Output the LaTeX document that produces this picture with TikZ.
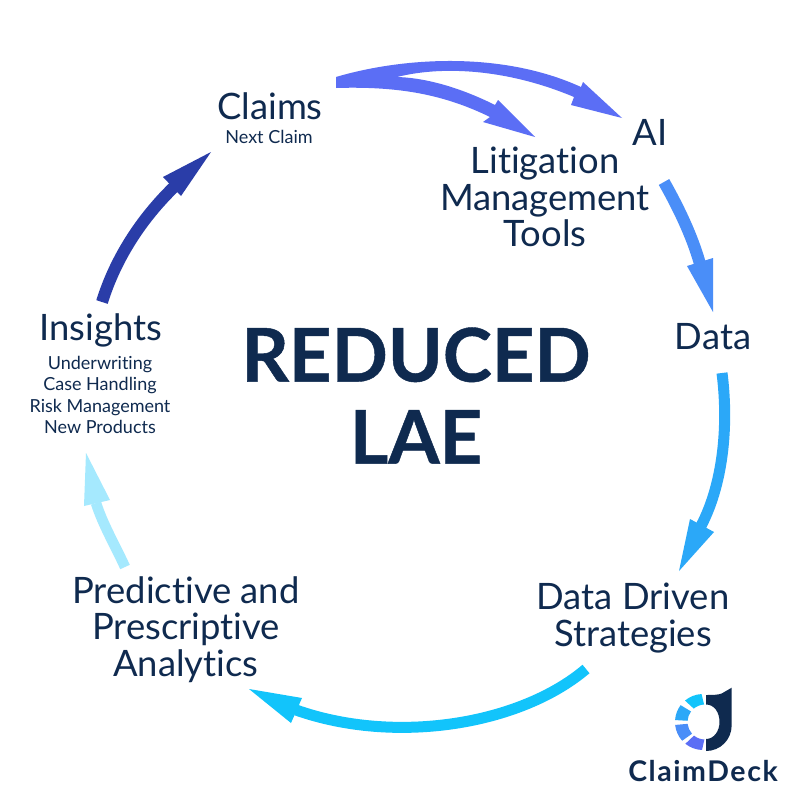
\documentclass[tikz,border=0pt]{standalone}
\usepackage{fontspec}
\setmainfont{Lato}[Ligatures={CommonOff,NoRequired}]
\usetikzlibrary{arrows.meta}
\definecolor{navy}{HTML}{0F2A4F}
\definecolor{cA}{HTML}{5B6EF5}
\definecolor{cB}{HTML}{4A8EF8}
\definecolor{cC}{HTML}{2BA8F8}
\definecolor{cD}{HTML}{12C4FB}
\definecolor{cE}{HTML}{A5E9FE}
\definecolor{cF}{HTML}{2A3DA8}
\tikzset{
 lab/.style={text=navy,align=center,font=\fontsize{36.4}{36.3}\selectfont,inner sep=0pt},
 sub/.style={text=navy,align=center,font=\fontsize{18}{21.3}\selectfont,inner sep=0pt},
 shaft/.style={line width=#1},
}
\newcommand{\logoseg}[3]{\fill[#1] ([shift={(#2:28pt)}]lc) arc[start angle=#2,end angle=#3,radius=28pt] -- ([shift={(#3:17.5pt)}]li) arc[start angle=#3,end angle=#2,radius=17.5pt] -- cycle;}
\begin{document}
\begin{tikzpicture}[x=1pt,y=-1pt]
\useasboundingbox (0,0) rectangle (800,800);
\fill[white] (0,0) rectangle (800,800);
\node[text=navy,align=center,inner sep=0pt,font=\bfseries\fontsize{74}{82}\selectfont\addfontfeature{FakeBold=0.6}] (center) at (416,395.5) {REDUCED\\LAE};
\node[lab] (claims) at (270,106) {Claims};
\node[sub] (next) at (269,137) {Next Claim};
\node[lab] (ai) at (650,132) {AI};
\node[lab] (lit) at (545,197) {Litigation\\Management\\Tools};
\node[lab] (data) at (713,337) {Data};
\node[lab] (dds) at (633,618) {Data Driven\\Strategies};
\node[lab] (ppa) at (186,629.5) {Predictive and\\Prescriptive\\Analytics};
\node[lab] (ins) at (101,330) {Insights};
\node[sub] (insub) at (100,395) {Underwriting\\Case Handling\\Risk Management\\New Products};
% Claims -> AI and Litigation (one forked shape)
\fill[cA] (336,77) .. controls (400,58) and (500,50) .. (581,87) -- (583,82) -- (622,118) -- (571,105) -- (574,97)
  .. controls (510,70) and (445,65) .. (397,77) .. controls (430,78) and (465,90) .. (495,105) -- (498,100)
  -- (535,137) -- (483,122) -- (490,117) .. controls (445,95) and (400,86) .. (336,88) -- cycle;
% AI -> Data
\draw[cB,shaft=12pt] (664,182) .. controls (677,205) and (692,235) .. (700,264);
\fill[cB] (687,266) -- (713,258) -- (713,312) -- cycle;
% Data -> Strategies
\draw[cC,shaft=11pt] (722,373) .. controls (728,420) and (725,480) .. (701,526);
\fill[cC] (690,519) -- (714,532) -- (679,571) -- cycle;
% Strategies -> Analytics
\draw[cD,shaft=11pt] (586,669) .. controls (520,725) and (395,745) .. (296,710);
\fill[cD] (302,698) -- (291,723) -- (249,689) -- cycle;
% Analytics -> Insights
\draw[cE,shaft=10.5pt] (125,567) .. controls (115,545) and (103,525) .. (96,503);
\fill[cE] (84,506) -- (110,500) -- (86,453) -- cycle;
% Insights -> Claims
\draw[cF,shaft=12pt] (102,302) .. controls (115,260) and (140,220) .. (174,187);
\fill[cF] (163,177) -- (181,196) -- (211,152) -- cycle;
% logo
\coordinate (lc) at (703,722);
\coordinate (li) at (705,722);
\logoseg{cD}{93}{130}
\logoseg{cC}{143}{176}
\logoseg{cB}{186}{222}
\logoseg{cA}{231}{268}
\fill[navy] (706,695) .. controls (712,695) and (718,695) .. (721.7,693.5) -- (731.7,687.7) -- (731.7,725)
  .. controls (731.7,740) and (720,751) .. (706,751) -- (706,739) .. controls (714,739) and (719.5,731) .. (719.5,722)
  .. controls (719.5,712) and (714,704.5) .. (706,704.5) -- cycle;
\node[text=navy,inner sep=0pt,font=\bfseries\fontsize{28.5}{30}\selectfont\addfontfeature{LetterSpace=5.5}] (brand) at (703,771) {ClaimDeck};
\end{tikzpicture}
\end{document}
